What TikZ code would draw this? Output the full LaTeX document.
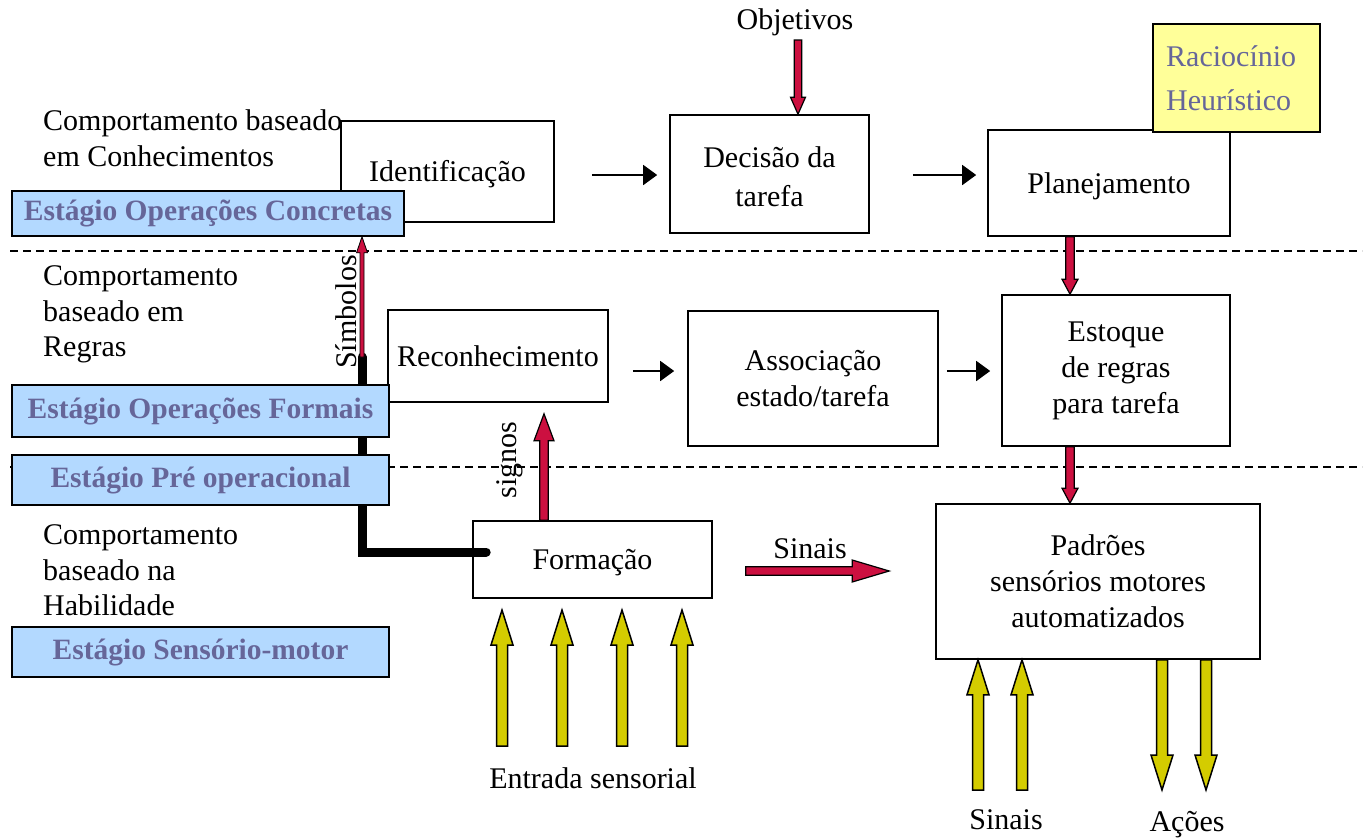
\documentclass[tikz,border=0pt]{standalone}
\usepackage{fontspec}
\setmainfont{Liberation Serif}
\usetikzlibrary{calc,arrows.meta}
\definecolor{stageblue}{RGB}{179,217,255}
\definecolor{stagetext}{RGB}{102,102,153}
\definecolor{heur}{RGB}{255,255,153}
\definecolor{redarr}{RGB}{204,16,64}
\definecolor{yelarr}{RGB}{212,204,0}
% block arrow: [style]{from}{to}{half shaft}{half head}{head length}
\newcommand\blockarrow[6][]{%
  \coordinate (ba-s) at (#2); \coordinate (ba-e) at (#3);
  \coordinate (ba-h) at ($(ba-e)!#6!(ba-s)$);
  \draw[#1] ($(ba-s)!#4!90:(ba-e)$) -- ($(ba-h)!#4!-90:(ba-s)$) -- ($(ba-h)!#5!-90:(ba-s)$) -- (ba-e)
    -- ($(ba-h)!#5!90:(ba-s)$) -- ($(ba-h)!#4!90:(ba-s)$) -- ($(ba-s)!#4!-90:(ba-e)$) -- cycle;}
\newcommand\lowered[1]{\raisebox{-3pt}[\height][\depth]{#1}}
\begin{document}
\begin{tikzpicture}[x=1pt,y=-1pt,
  box/.style={draw, line width=1.6pt, fill=white, align=center, inner sep=0pt,
    font=\fontsize{30}{36}\selectfont},
  stage/.style={draw, line width=1.6pt, fill=stageblue, text=stagetext, inner sep=0pt,
    font=\bfseries\fontsize{29.5}{32}\selectfont},
  lbl/.style={font=\fontsize{30}{35.5}\selectfont, align=left, anchor=west, inner sep=0pt},
  txt/.style={font=\fontsize{30}{35}\selectfont, inner sep=0pt},
  blk/.style={line width=1.6pt, -{Triangle[length=14pt,width=20pt]}},
  redfill/.style={draw=black, line width=1.2pt, fill=redarr, line join=miter},
  yelfill/.style={draw=black, line width=1.5pt, fill=yelarr, line join=miter},
  sepline/.style={line width=1.3pt, dash pattern=on 8pt off 5pt}
]
\useasboundingbox (0,0) rectangle (1369,839);

% separators
\draw[sepline] (10,251) -- (1362,251);
\draw[sepline] (10,467) -- (1362,467);

% left texts
\node[lbl] (lk) at (43,138) {Comportamento baseado\\em Conhecimentos};
\node[lbl] (lr) at (43,314.5) {Comportamento\\baseado em\\Regras};
\node[lbl] (lh) at (43,570.5) {Comportamento\\baseado na\\Habilidade};

% start of the thick black line
\coordinate (thk) at (362,357);

% main boxes
\node[box, minimum width=213pt, minimum height=101pt] (ident) at (447.5,171.5) {\lowered{Identificação}};
\node[box, minimum width=199pt, minimum height=118pt, font=\fontsize{30}{39}\selectfont] (decis) at (769.5,174) {\lowered{Decisão da}\\\lowered{tarefa}};
\node[box, minimum width=242pt, minimum height=106pt] (plan) at (1109,183) {\lowered{Planejamento}};
\node[draw, line width=1.6pt, fill=heur, minimum width=167pt, minimum height=108pt, inner sep=0pt] (heu) at (1236.5,78) {};
\node[txt, anchor=west, text=stagetext, align=left, font=\fontsize{30}{44}\selectfont] (heut) at (1166,78) {Raciocínio\\Heurístico};

\node[box, minimum width=220pt, minimum height=92pt] (reco) at (498,356) {Reconhecimento};
\node[box, minimum width=250pt, minimum height=135pt] (assoc) at (813,378.5) {Associação\\estado/tarefa};
\node[box, minimum width=228pt, minimum height=151pt] (estq) at (1116,370.5) {Estoque\\de regras\\para tarefa};

\node[box, minimum width=239pt, minimum height=77pt] (form) at (592.5,559.5) {\lowered{Formação}};
\node[box, minimum width=324pt, minimum height=155pt] (padr) at (1098,581.5) {Padrões\\sensórios motores\\automatizados};

\draw[line width=9pt, line cap=round] (thk) |- ([xshift=14pt,yshift=7.5pt]form.west);

% stage boxes
\node[stage, minimum width=392pt, minimum height=45pt] (conc) at (208,213.5) {Estágio Operações Concretas};
\node[stage, minimum width=377pt, minimum height=52pt] (formal) at (200.5,411) {Estágio Operações Formais};
\node[stage, minimum width=377pt, minimum height=50pt] (pre) at (200.5,480) {Estágio Pré operacional};
\node[stage, minimum width=377pt, minimum height=50pt] (sens) at (200.5,652) {Estágio Sensório-motor};

% labels
\node[txt] (objt) at (795,22) {Objetivos};
\node[txt] (sinl) at (810,549) {Sinais};
\node[txt] (entr) at (593,778) {Entrada sensorial};
\node[txt] (sin2) at (1006,820) {Sinais};
\node[txt] (acoe) at (1187,825) {Ações};
\node[txt, rotate=90] (simb) at (346,312) {Símbolos};
\node[txt, rotate=90] (sign) at (510,460) {signos};

% black arrows
\draw[blk] ([xshift=37pt,yshift=-3.5pt]ident.east) -- ([xshift=-12pt,yshift=-1pt]decis.west);
\draw[blk] ([xshift=43pt,yshift=-1pt]decis.east) -- ([xshift=-11pt,yshift=8pt]plan.west);
\draw[blk] ([xshift=24pt,yshift=-15pt]reco.east) -- ([xshift=-13pt,yshift=7.5pt]assoc.west);
\draw[blk] ([xshift=8pt,yshift=7.5pt]assoc.east) -- ([xshift=-11pt,yshift=-0.5pt]estq.west);

% red arrows
\coordinate (objs) at (798,40);
\blockarrow[redfill]{objs}{[xshift=28.5pt]decis.north}{3.8pt}{7.5pt}{17pt}
\blockarrow[redfill]{[xshift=-39pt]plan.south}{[xshift=-46pt]estq.north}{4.2pt}{8pt}{15pt}
\blockarrow[redfill]{[xshift=-46pt]estq.south}{[xshift=-28pt]padr.north}{4.2pt}{8pt}{15pt}
\blockarrow[redfill]{[xshift=-48.5pt]form.north}{[xshift=46pt,yshift=-11pt]reco.south}{4.2pt}{10pt}{27pt}
\blockarrow[redfill]{[xshift=33pt,yshift=-11.5pt]form.east}{[xshift=-46pt,yshift=10.5pt]padr.west}{4.2pt}{11pt}{37pt}
\blockarrow[redfill, line width=0.8pt]{thk}{[xshift=154pt]conc.south}{2pt}{5.5pt}{16pt}

% yellow arrows (sensory input)
\foreach \i/\x in {1/502,2/562,3/622,4/682}{
  \coordinate (ys\i) at (\x,746);
  \coordinate (ye\i) at (\x,610);
  \blockarrow[yelfill]{ys\i}{ye\i}{5.5pt}{11pt}{35pt}
}
\foreach \i/\x in {1/978,2/1022}{
  \coordinate (ps\i) at (\x,790);
  \blockarrow[yelfill]{ps\i}{[xshift=\x pt-1098pt]padr.south}{5.5pt}{11pt}{35pt}
}
\foreach \i/\x in {1/1162,2/1206}{
  \coordinate (pa\i) at (\x,790);
  \blockarrow[yelfill]{[xshift=\x pt-1098pt]padr.south}{pa\i}{5.5pt}{11pt}{35pt}
}
\end{tikzpicture}
\end{document}
